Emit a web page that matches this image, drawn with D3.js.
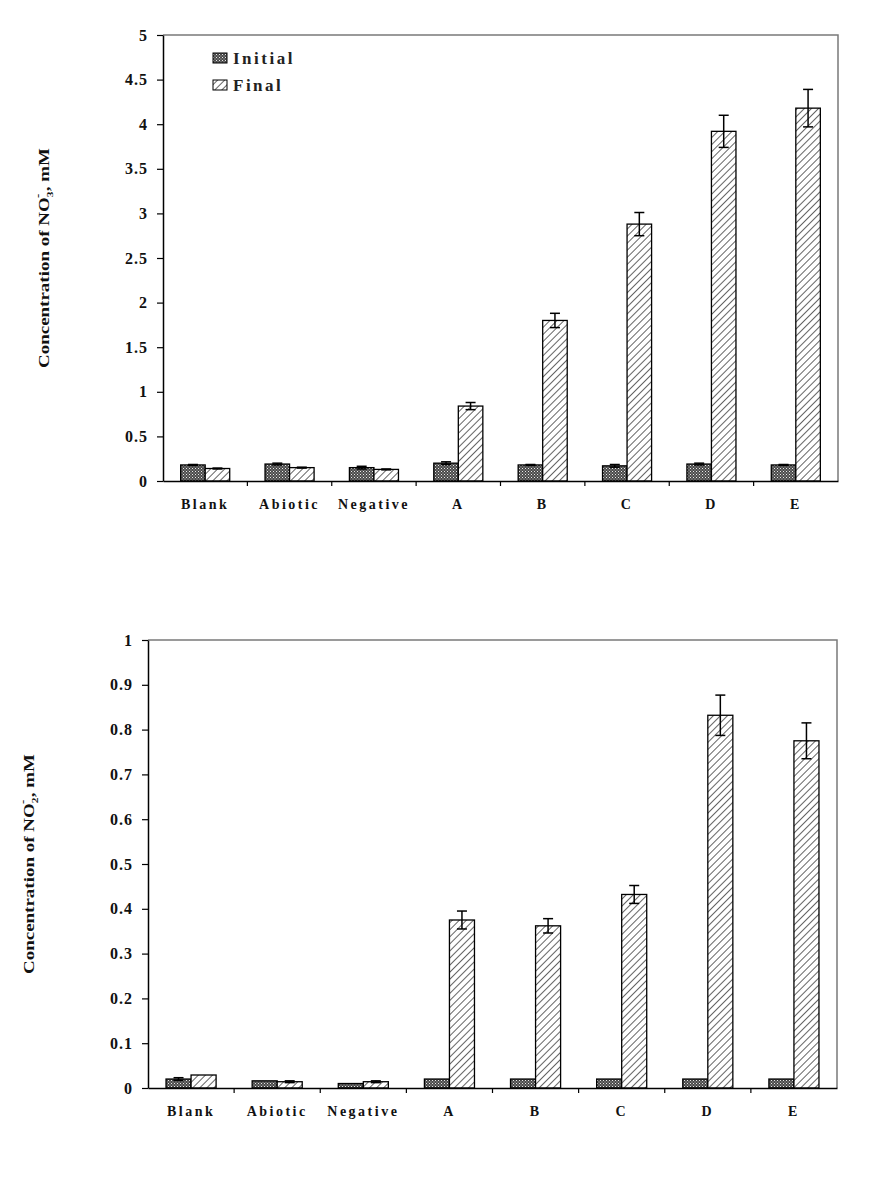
<!DOCTYPE html>
<html><head><meta charset="utf-8">
<script src="https://cdn.jsdelivr.net/npm/d3@7"></script>
<style>body{margin:0;background:#fff}svg{display:block}</style>
</head><body>
<svg id="c" width="895" height="1195"></svg>
<script>
const categories = ["Blank","Abiotic","Negative","A","B","C","D","E"];
const seriesNames = ["Initial","Final"];
const no3Initial    = [0.18,0.19,0.15,0.20,0.18,0.17,0.19,0.18];
const no3InitialErr = [0.005,0.01,0.015,0.015,0.005,0.015,0.01,0.005];
const no3Final      = [0.14,0.15,0.13,0.84,1.80,2.88,3.92,4.18];
const no3FinalErr   = [0.005,0.005,0.005,0.04,0.08,0.13,0.18,0.21];
const no2Initial    = [0.02,0.016,0.01,0.02,0.02,0.02,0.02,0.02];
const no2InitialErr = [0.003,0,0,0,0,0,0,0];
const no2Final      = [0.029,0.014,0.014,0.375,0.362,0.432,0.832,0.775];
const no2FinalErr   = [0,0.002,0.002,0.02,0.016,0.02,0.045,0.04];
const no3Ticks = [0,0.5,1,1.5,2,2.5,3,3.5,4,4.5,5];
const no2Ticks = [0,0.1,0.2,0.3,0.4,0.5,0.6,0.7,0.8,0.9,1];

const svg = d3.select("#c");
const defs = svg.append("defs");
const p1 = defs.append("pattern").attr("id","pInit").attr("patternUnits","userSpaceOnUse").attr("width",3).attr("height",3);
p1.append("rect").attr("width",3).attr("height",3).attr("fill","#4a4a4a");
p1.append("rect").attr("x",0).attr("y",0).attr("width",1).attr("height",1).attr("fill","#e8e8e8");
p1.append("rect").attr("x",1.5).attr("y",1.5).attr("width",1).attr("height",1).attr("fill","#bdbdbd");
const p2 = defs.append("pattern").attr("id","pFinal").attr("patternUnits","userSpaceOnUse").attr("width",5).attr("height",5).attr("patternTransform","rotate(45)");
p2.append("rect").attr("width",5).attr("height",5).attr("fill","#fff");
p2.append("line").attr("x1",0).attr("y1",0).attr("x2",0).attr("y2",5).attr("stroke","#111").attr("stroke-width",1.3);
const fills = {Initial:"url(#pInit)", Final:"url(#pFinal)"};

const FONT = "'Liberation Serif','Times New Roman',serif";

function drawChart(cfg){
  const {L,T,R,B,max,ticks,init,initErr,fin,finErr,ion,labelX,legend} = cfg;
  const g = svg.append("g");
  const x0 = d3.scaleBand().domain(categories).range([L,R]).paddingInner(0).paddingOuter(0);
  const x1 = d3.scaleBand().domain(seriesNames).range([0,x0.bandwidth()]).paddingInner(0).paddingOuter(0.72);
  const y = d3.scaleLinear().domain([0,max]).range([B,T]);

  g.append("path").attr("d",`M${L},${T}H${R}V${B}`).attr("fill","none").attr("stroke","#7a7a7a").attr("stroke-width",1.5);

  const data = [];
  categories.forEach((c,i)=>{
    data.push({c,s:"Initial",v:init[i],e:initErr[i]});
    data.push({c,s:"Final",v:fin[i],e:finErr[i]});
  });
  g.selectAll("rect.bar").data(data).join("rect").attr("class","bar")
    .attr("x",d=>x0(d.c)+x1(d.s)).attr("width",x1.bandwidth())
    .attr("y",d=>y(d.v)).attr("height",d=>y(0)-y(d.v))
    .attr("fill",d=>fills[d.s]).attr("stroke","#000").attr("stroke-width",1.3);

  const cx = d=>x0(d.c)+x1(d.s)+x1.bandwidth()/2;
  const eb = g.selectAll("g.err").data(data.filter(d=>d.e>0)).join("g").attr("class","err")
    .attr("stroke","#000").attr("stroke-width",1.5);
  eb.append("line").attr("x1",cx).attr("x2",cx).attr("y1",d=>y(d.v+d.e)).attr("y2",d=>y(d.v-d.e));
  eb.append("line").attr("x1",d=>cx(d)-5).attr("x2",d=>cx(d)+5).attr("y1",d=>y(d.v+d.e)).attr("y2",d=>y(d.v+d.e));
  eb.append("line").attr("x1",d=>cx(d)-5).attr("x2",d=>cx(d)+5).attr("y1",d=>y(d.v-d.e)).attr("y2",d=>y(d.v-d.e));

  const ya = g.append("g").attr("transform",`translate(${L},0)`)
    .call(d3.axisLeft(y).tickValues(ticks).tickSize(6).tickSizeOuter(0).tickPadding(9).tickFormat(d3.format("")));
  ya.select(".domain").attr("stroke","#000").attr("stroke-width",1.5);
  ya.selectAll(".tick line").attr("stroke","#000").attr("stroke-width",1.2);
  ya.selectAll(".tick text").attr("font-family",FONT).attr("font-weight","bold").attr("font-size",16)
    .attr("letter-spacing","1px").attr("fill","#111");

  const xa = g.append("g").attr("transform",`translate(0,${B})`)
    .call(d3.axisBottom(x0).tickSize(0).tickPadding(18));
  xa.select(".domain").attr("stroke","#000").attr("stroke-width",1.5);
  xa.selectAll(".tick text").attr("font-family",FONT).attr("font-weight","bold").attr("font-size",14)
    .attr("letter-spacing","2.5px").attr("fill","#111");
  g.append("g").selectAll("line").data(categories.slice(1)).join("line")
    .attr("x1",d=>x0(d)).attr("x2",d=>x0(d)).attr("y1",B).attr("y2",B+5).attr("stroke","#000").attr("stroke-width",1.2);

  const cy = (T+B)/2;
  const t = g.append("text").attr("transform",`translate(${labelX},${cy}) rotate(-90)`)
    .attr("text-anchor","middle").attr("font-family",FONT).attr("font-weight","bold").attr("font-size",15)
    .attr("fill","#111").attr("textLength",220).attr("lengthAdjust","spacingAndGlyphs");
  t.append("tspan").text("Concentration of NO");
  t.append("tspan").attr("font-size",9).attr("dy",4).text(ion);
  t.append("tspan").attr("font-size",10).attr("dx",-5).attr("dy",-12).text("-");
  t.append("tspan").attr("dx",2).attr("dy",8).text(", mM");

  if(legend){
    const lg = g.append("g");
    seriesNames.forEach((s,i)=>{
      const yy = 58 + i*27;
      lg.append("rect").attr("x",213).attr("y",yy-5).attr("width",14).attr("height",10)
        .attr("fill",fills[s]).attr("stroke","#000").attr("stroke-width",1);
      lg.append("text").attr("x",233).attr("y",yy+6).attr("font-family",FONT).attr("font-weight","bold")
        .attr("font-size",17).attr("letter-spacing","2.5px").attr("fill","#222").text(s);
    });
  }
}

drawChart({L:163,T:35,R:838,B:481,max:5,ticks:no3Ticks,init:no3Initial,initErr:no3InitialErr,
  fin:no3Final,finErr:no3FinalErr,ion:"3",labelX:49,legend:true});
drawChart({L:148,T:640,R:837,B:1088,max:1,ticks:no2Ticks,init:no2Initial,initErr:no2InitialErr,
  fin:no2Final,finErr:no2FinalErr,ion:"2",labelX:34,legend:false});
</script>
</body></html>
